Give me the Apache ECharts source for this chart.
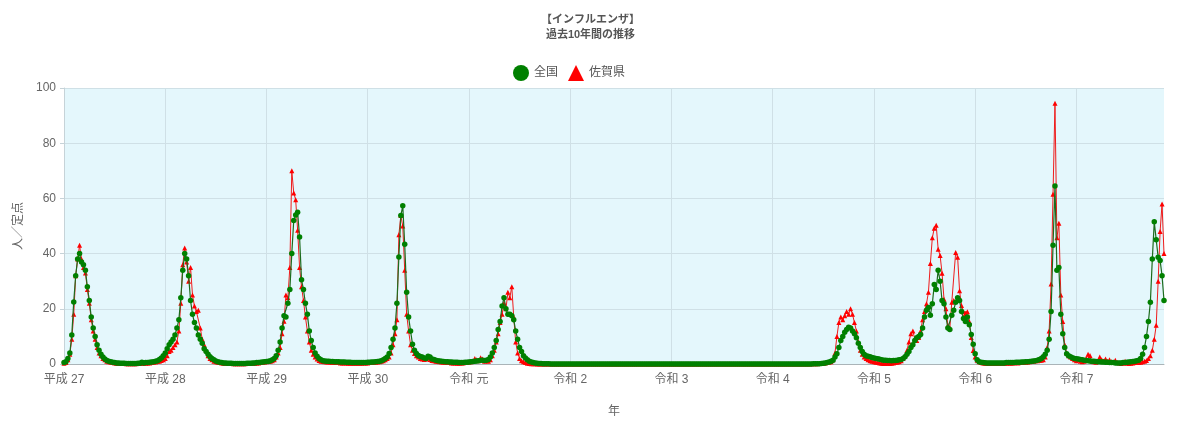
<!DOCTYPE html>
<html><head><meta charset="utf-8">
<script src="https://cdn.jsdelivr.net/npm/echarts@6/dist/echarts.min.js"></script>
<style>html,body{margin:0;padding:0;background:#fff}#c{width:1181px;height:423px}</style>
</head><body><div id="c"></div>
<script>
// Fiscal-year labels (one tick every 52 weeks)
const yearLabels = ['平成 27','平成 28','平成 29','平成 30','令和 元','令和 2','令和 3','令和 4','令和 5','令和 6','令和 7'];
const weeksPerYear = 52;

// 全国 (national) weekly values, 人／定点
const zenkoku = [
 0.5,0.8,2,4,10.5,22.5,32,38,40,37,
 36,34,28,23,17,13,10,7,5,3.5,
 2.5,1.8,1.3,1.0,0.8,0.6,0.5,0.4,0.4,0.3,
 0.3,0.3,0.2,0.2,0.2,0.2,0.2,0.2,0.3,0.3,
 0.6,0.4,0.5,0.5,0.6,0.7,0.8,1.0,1.2,1.6,
 2.2,3.0,4,5.5,7,8,9,10.5,13,16,
 24,34,40,38,32,23,18,15,13,10.5,
 9,7.5,5.5,4.5,3.5,2.6,2,1.5,1.1,0.8,
 0.6,0.5,0.4,0.4,0.3,0.3,0.3,0.2,0.2,0.2,
 0.2,0.2,0.2,0.2,0.3,0.3,0.3,0.4,0.4,0.5,
 0.5,0.6,0.7,0.8,0.9,1.0,1.2,1.5,2,3,
 5,8,13,17.5,17,22,27,40,52,54,
 55,46,30.5,27,22,18,12,8.5,6,4,
 2.8,2,1.5,1.2,1.1,1.0,1.0,0.9,0.9,0.8,
 0.8,0.8,0.7,0.7,0.7,0.6,0.6,0.6,0.5,0.5,
 0.5,0.5,0.5,0.5,0.5,0.5,0.6,0.6,0.7,0.7,
 0.8,0.9,1.0,1.2,1.5,2,2.5,3.8,6,9,
 13,22,38.8,53.8,57.3,43.4,26,17,12,7.2,
 5,3.8,3.1,2.7,2.5,2.2,2.0,2.8,2.5,1.8,
 1.6,1.4,1.2,1.1,1.0,0.9,0.8,0.8,0.7,0.7,
 0.6,0.6,0.6,0.5,0.5,0.5,0.6,0.6,0.7,0.8,
 0.9,1.0,1.1,1.2,1.4,1.4,1.3,1.4,1.6,2.5,
 4,6,8.5,12.5,15.4,21,24,20,18,18,
 17.5,16,12,9,6,4.5,3,2.2,1.5,1.0,
 0.7,0.5,0.4,0.3,0.2,0.15,0.1,0.08,0.06,0.05,
 0.04,0.03,0.03,0.02,0.02,0.02,0.01,0.01,0.01,0.01,
 0.01,0.01,0.01,0.01,0.01,0.01,0.01,0.01,0.01,0.01,
 0.01,0.01,0.01,0.01,0.01,0.01,0.01,0.01,0.01,0.01,
 0.01,0.01,0.01,0.01,0.01,0.01,0.01,0.01,0.01,0.01,
 0.01,0.01,0.01,0.01,0.01,0.01,0.01,0.01,0.01,0.01,
 0.01,0.01,0.01,0.01,0.01,0.01,0.01,0.01,0.01,0.01,
 0.01,0.01,0.01,0.01,0.01,0.01,0.01,0.01,0.01,0.01,
 0.01,0.01,0.01,0.01,0.01,0.01,0.01,0.01,0.01,0.01,
 0.01,0.01,0.01,0.01,0.01,0.01,0.01,0.01,0.01,0.01,
 0.01,0.01,0.01,0.01,0.01,0.01,0.01,0.01,0.01,0.01,
 0.01,0.01,0.01,0.01,0.01,0.01,0.01,0.01,0.01,0.01,
 0.02,0.02,0.02,0.02,0.02,0.02,0.02,0.02,0.02,0.02,
 0.02,0.02,0.02,0.02,0.02,0.02,0.02,0.02,0.02,0.02,
 0.03,0.03,0.03,0.03,0.03,0.05,0.06,0.08,0.1,0.2,
 0.3,0.4,0.5,0.7,1.0,1.4,2.5,3.7,6,8.5,
 10,11.5,12.5,13.3,13,12,11,9.5,7.5,6,
 4.5,3.5,3,2.8,2.6,2.4,2.2,2.0,1.9,1.7,
 1.5,1.4,1.4,1.3,1.3,1.2,1.3,1.3,1.4,1.5,
 1.6,2.0,2.6,3.5,4.5,6,7,8.5,9.5,10,
 10.7,13,17,19.5,20.5,17.7,21.8,28.8,27,34,
 30,23,21.8,17,13,12.5,17.7,19.5,22.4,24,
 23,19,16.5,15.4,17,14.2,10.7,7.2,3.7,1.5,
 0.8,0.6,0.5,0.45,0.4,0.4,0.4,0.4,0.4,0.4,
 0.4,0.4,0.4,0.4,0.5,0.5,0.5,0.5,0.5,0.6,
 0.6,0.6,0.7,0.7,0.8,0.8,0.9,1.0,1.1,1.2,
 1.4,1.6,2.0,2.6,3.5,5,9,19,43,64.5,
 34,35,18,11,6,3.7,3,2.6,2.3,2,
 1.9,1.8,1.6,1.5,1.4,1.3,1.2,1.1,1.0,1.0,
 0.9,0.8,0.8,0.7,0.7,0.6,0.6,0.5,0.5,0.5,
 0.4,0.4,0.4,0.4,0.5,0.5,0.6,0.7,0.8,0.9,
 1.0,1.2,1.4,2,3.5,6,10,15.4,22.4,38,
 51.5,45,38.7,37.5,32,23
];

// 佐賀県 (Saga prefecture) weekly values, 人／定点
const saga = [
 0.3,0.5,1.5,3.5,9,18,32,38,43,38,
 35,33,27,22,16,12,9,6,4,3,
 2,1.5,1.0,0.8,0.6,0.5,0.4,0.3,0.3,0.2,
 0.2,0.2,0.1,0.1,0.1,0.1,0.1,0.1,0.2,0.2,
 0.3,0.3,0.3,0.4,0.4,0.5,0.6,0.7,0.9,1.0,
 1.3,1.5,2,3,4.5,5,6,7,8,12,
 22,36,42,37,30,35,25,21,19,19.5,
 13,9,7,5,3,2,1.5,1,0.8,0.6,
 0.5,0.4,0.3,0.3,0.2,0.2,0.2,0.1,0.1,0.1,
 0.1,0.1,0.1,0.1,0.2,0.2,0.2,0.3,0.3,0.4,
 0.4,0.5,0.6,0.7,0.8,0.9,1.0,1.2,1.5,2.5,
 4,6,11,15.5,25,24,35,70,62,59.5,
 48.5,35,28,23,17,12,8,5,3.5,2.5,
 1.8,1.3,1.0,0.9,0.8,0.7,0.7,0.6,0.6,0.5,
 0.5,0.5,0.4,0.4,0.4,0.4,0.3,0.3,0.3,0.3,
 0.3,0.3,0.3,0.3,0.4,0.4,0.4,0.5,0.5,0.6,
 0.6,0.7,0.8,1.0,1.2,1.5,2,2.5,4,7,
 11,16,46.8,53.8,50,34,18,12,7,5,
 3.8,3,2.5,2,1.8,1.6,1.8,2.2,1.6,1.3,
 1.2,1.0,0.9,0.8,0.7,0.6,0.6,0.5,0.5,0.4,
 0.4,0.4,0.3,0.3,0.4,0.4,0.5,0.6,0.7,0.8,
 1.0,2.0,1.5,1.2,2.3,1.8,1.0,1.2,1.0,1.5,
 3,5,8,11,15,18,22,20,26,24,
 28,17,8,4,2,1.2,0.8,0.5,0.3,0.2,
 0.1,0.1,0.05,0.03,0.02,0.01,0,0,0,0,
 0,0,0,0,0,0,0,0,0,0,
 0,0,0,0,0,0,0,0,0,0,
 0,0,0,0,0,0,0,0,0,0,
 0,0,0,0,0,0,0,0,0,0,
 0,0,0,0,0,0,0,0,0,0,
 0,0,0,0,0,0,0,0,0,0,
 0,0,0,0,0,0,0,0,0,0,
 0,0,0,0,0,0,0,0,0,0,
 0,0,0,0,0,0,0,0,0,0,
 0,0,0,0,0,0,0,0,0,0,
 0,0,0,0,0,0,0,0,0,0,
 0,0,0,0,0,0,0,0,0,0,
 0,0,0,0,0,0,0,0,0,0,
 0,0,0,0,0.05,0.05,0.1,0.1,0.2,0.3,
 0.3,0.4,0.5,0.6,0.8,1.5,4,10,15,17,
 16,17.5,19,18,20,18,15,12,8,5,
 3.5,2.5,2,1.5,1.2,1,0.8,0.6,0.5,0.4,
 0.3,0.2,0.2,0.3,0.2,0.3,0.4,0.5,0.6,0.8,
 1.2,2,3,5,8,11,12,9,8.5,9.6,
 12,16,19,21.8,26,36.4,45.7,49.2,50.3,41.6,
 39.3,32.9,23.5,20,14,13,22.4,23,40.4,38.7,
 26.5,21.2,18.9,18.3,18.9,15.4,9.6,4.9,2.5,1.4,
 0.8,0.5,0.4,0.3,0.3,0.2,0.3,0.2,0.2,0.3,
 0.2,0.3,0.3,0.3,0.3,0.4,0.3,0.4,0.4,0.5,
 0.4,0.5,0.5,0.6,0.6,0.7,0.8,0.9,1.0,1.2,
 1.2,1.3,1.4,1.5,2.5,6,12,29,61.5,94.5,
 45.7,51,25,15.4,7,4,3,2.5,2,1.5,
 1.2,1.5,1.0,0.8,1.0,2.0,3.5,3.1,1.0,0.8,
 0.6,1.0,2.5,1.5,1.0,1.8,1.0,1.5,0.8,0.5,
 1.4,0.5,0.4,0.2,0.3,1.0,0.3,0.2,0.3,0.4,
 0.5,0.6,0.5,0.6,0.8,1.0,1.3,2,3,5,
 9,14,30,48,58,40
];

const categories = zenkoku.map((v, i) => yearLabels[Math.floor(i / weeksPerYear)] + ' 第' + (i % weeksPerYear + 1) + '週');
const isYearStart = (idx) => idx % weeksPerYear === 0;

const FONT = '"Liberation Sans", "Noto Sans CJK JP", sans-serif';
const chart = echarts.init(document.getElementById('c'), null, {renderer: 'canvas'});
chart.setOption({
  animation: false,
  textStyle: {fontFamily: FONT},
  title: {
    text: '【インフルエンザ】',
    subtext: '過去10年間の推移',
    left: 'center', top: 9, itemGap: 4,
    textStyle: {fontSize: 11, fontWeight: 'bold', color: '#555', fontFamily: FONT},
    subtextStyle: {fontSize: 11, fontWeight: 'bold', color: '#555', fontFamily: FONT}
  },
  legend: {
    left: 508, top: 60,
    itemWidth: 16, itemHeight: 16, itemGap: 10,
    textStyle: {fontSize: 12, color: '#555', fontFamily: FONT},
    data: [{name: '全国', icon: 'circle'}, {name: '佐賀県', icon: 'triangle'}]
  },
  grid: {left: 64, right: 17, top: 88, bottom: 49, show: true, backgroundColor: '#e4f7fc', borderWidth: 0},
  xAxis: {
    type: 'category', data: categories, boundaryGap: false,
    name: '年', nameLocation: 'middle', nameGap: 42,
    nameTextStyle: {fontSize: 12, color: '#666'},
    axisLine: {lineStyle: {color: '#aab4b8'}},
    axisTick: {show: false},
    axisLabel: {interval: (idx) => isYearStart(idx), formatter: (v, idx) => yearLabels[Math.floor(idx / weeksPerYear)], fontSize: 12, color: '#666', margin: 10},
    splitLine: {show: true, interval: (idx) => isYearStart(idx), lineStyle: {color: '#cfe0e6', width: 1}}
  },
  yAxis: {
    type: 'value', min: 0, max: 100, interval: 20,
    name: '人／定点', nameLocation: 'middle', nameGap: 38,
    nameTextStyle: {fontSize: 12, color: '#666'},
    axisLine: {show: true, lineStyle: {color: '#c6d3d8'}},
    axisTick: {show: true, length: 4, lineStyle: {color: '#c6d3d8'}},
    axisLabel: {fontSize: 12, color: '#666', margin: 8},
    splitLine: {show: true, lineStyle: {color: '#cfe0e6', width: 1}}
  },
  series: [
    {
      name: '佐賀県', type: 'line', data: saga,
      symbol: 'triangle', symbolSize: 5, showAllSymbol: true,
      itemStyle: {color: '#ff0000'},
      lineStyle: {color: '#ee1c1c', width: 1}, z: 2
    },
    {
      name: '全国', type: 'line', data: zenkoku,
      symbol: 'circle', symbolSize: 5.5, showAllSymbol: true,
      itemStyle: {color: '#008000'},
      lineStyle: {color: '#1d6b1d', width: 1.2}, z: 3
    }
  ]
});
</script>
</body></html>
